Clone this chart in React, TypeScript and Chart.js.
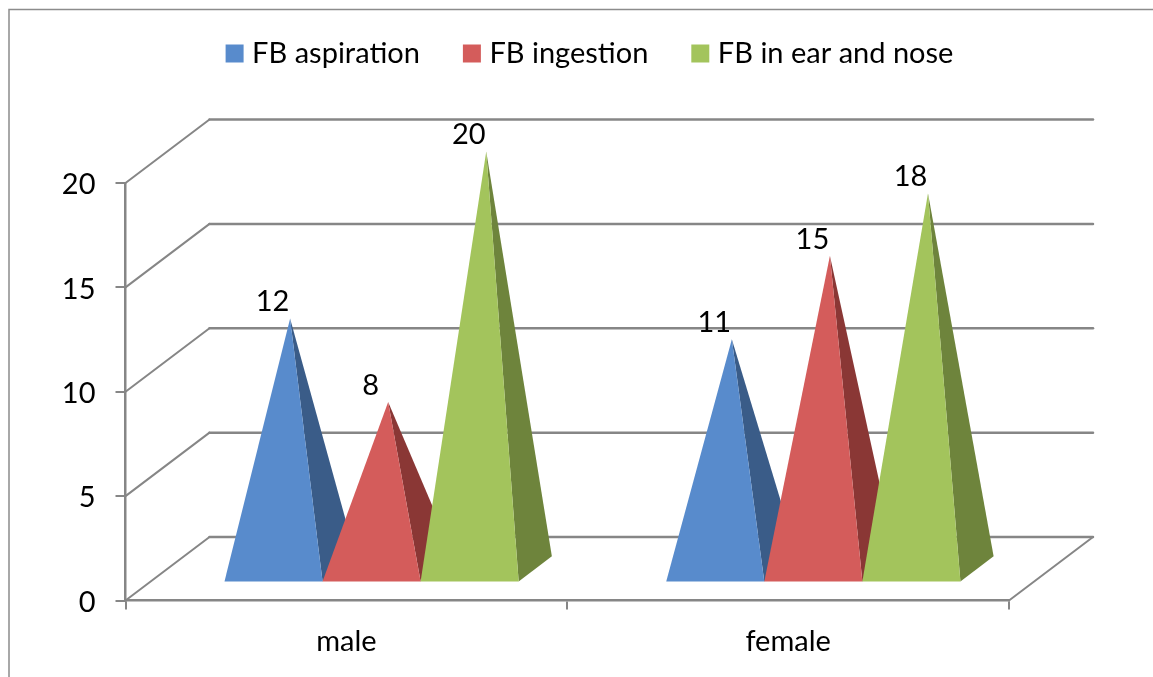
import React, { useEffect, useRef } from "react";
import { Chart, registerables } from "chart.js";

Chart.register(...registerables);

const categories = ["male", "female"];
const fbAspiration = [12, 11];
const fbIngestion = [8, 15];
const fbEarNose = [20, 18];
const seriesNames = ["FB aspiration", "FB ingestion", "FB in ear and nose"];

const FONT = "Lato, Carlito, sans-serif";
const GRID = "#868686";
const FRONT = ["#588bcc", "#d45c5b", "#a3c45c"];
const SIDE = ["#3a5c88", "#8a3735", "#6e843c"];

const DEPTH_X = 84;
const DEPTH_Y = 63.5;
const FLOOR = 0.3;
const PYRAMID = 0.395;
const LEGEND_SHIFT = 74;
const Y_LABEL_DROP = 2;

const scene = {
  id: "scene",
  beforeInit(chart: any) {
    const legend = chart.legend;
    const fit = legend.fit;
    legend.fit = function () {
      fit.call(this);
      this.height = 183 + 10;
    };
  },
  afterLayout(chart: any) {
    chart.legend.left += LEGEND_SHIFT;
    chart.legend.right += LEGEND_SHIFT;
  },
  beforeDraw(chart: any) {
    const { ctx } = chart;
    chart.scales.y.getLabelItems(chart.chartArea).forEach((item: any) => {
      if (!item.dropped) {
        item.dropped = true;
        item.textOffset += Y_LABEL_DROP;
      }
    });
    ctx.save();
    ctx.strokeStyle = "#8c8c8c";
    ctx.lineWidth = 1.5;
    ctx.beginPath();
    ctx.moveTo(9, 677);
    ctx.lineTo(9, 9.5);
    ctx.lineTo(1153, 9.5);
    ctx.stroke();
    ctx.restore();
  },
  beforeDatasetsDraw(chart: any) {
    const { ctx, scales } = chart;
    const y = scales.y;
    const x0 = scales.x.left;
    const x1 = scales.x.right;
    ctx.save();
    ctx.strokeStyle = GRID;
    ctx.lineCap = "round";
    y.ticks.forEach((t: any) => {
      const py = y.getPixelForValue(t.value);
      ctx.lineWidth = 2;
      ctx.beginPath();
      ctx.moveTo(x0, py);
      ctx.lineTo(x0 + DEPTH_X, py - DEPTH_Y);
      ctx.stroke();
      ctx.lineWidth = 2.5;
      ctx.beginPath();
      ctx.moveTo(x0 + DEPTH_X, py - DEPTH_Y);
      ctx.lineTo(x1 + DEPTH_X, py - DEPTH_Y);
      ctx.stroke();
    });
    const py0 = y.getPixelForValue(0);
    ctx.lineWidth = 2;
    ctx.beginPath();
    ctx.moveTo(x1, py0);
    ctx.lineTo(x1 + DEPTH_X, py0 - DEPTH_Y);
    ctx.stroke();
    ctx.restore();
  },
  afterDatasetsDraw(chart: any) {
    const { ctx, scales, data } = chart;
    const y = scales.y;
    const py0 = y.getPixelForValue(0);
    const baseY = py0 - FLOOR * DEPTH_Y;
    const dx = PYRAMID * DEPTH_X;
    const dy = PYRAMID * DEPTH_Y;
    ctx.save();
    data.datasets.forEach((ds: any, i: number) => {
      chart.getDatasetMeta(i).data.forEach((bar: any, j: number) => {
        const { x, width } = bar.getProps(["x", "width"], true);
        const left = x - width / 2 + FLOOR * DEPTH_X;
        const right = x + width / 2 + FLOOR * DEPTH_X;
        const ax = (left + right + dx) / 2;
        const ay = y.getPixelForValue(ds.data[j]) - FLOOR * DEPTH_Y - dy / 2;
        ctx.fillStyle = SIDE[i];
        ctx.beginPath();
        ctx.moveTo(right, baseY);
        ctx.lineTo(right + dx, baseY - dy);
        ctx.lineTo(ax, ay);
        ctx.closePath();
        ctx.fill();
        ctx.fillStyle = FRONT[i];
        ctx.beginPath();
        ctx.moveTo(left, baseY);
        ctx.lineTo(right, baseY);
        ctx.lineTo(ax, ay);
        ctx.closePath();
        ctx.fill();
      });
    });
    ctx.fillStyle = "#000";
    ctx.font = `29px ${FONT}`;
    ctx.textAlign = "center";
    ctx.textBaseline = "middle";
    data.datasets.forEach((ds: any, i: number) => {
      chart.getDatasetMeta(i).data.forEach((bar: any, j: number) => {
        const { x } = bar.getProps(["x"], true);
        const ax = x + FLOOR * DEPTH_X + dx / 2;
        const ay = y.getPixelForValue(ds.data[j]) - FLOOR * DEPTH_Y - dy / 2;
        ctx.fillText(String(ds.data[j]), ax - 17.5, ay - 16.5);
      });
    });
    ctx.restore();
  },
};

export default function App() {
  const ref = useRef<HTMLCanvasElement>(null);
  useEffect(() => {
    const chart = new Chart(ref.current as HTMLCanvasElement, {
      type: "bar",
      data: {
        labels: categories,
        datasets: [fbAspiration, fbIngestion, fbEarNose].map((values, i) => ({
          label: seriesNames[i],
          data: values,
          backgroundColor: "rgba(0,0,0,0)",
          categoryPercentage: 0.666,
          barPercentage: 1,
        })),
      },
      options: {
        responsive: false,
        animation: false,
        layout: { padding: { left: 28, right: 144, top: -10, bottom: 0 } },
        plugins: {
          tooltip: { enabled: false },
          legend: {
            position: "top",
            onClick: () => {},
            labels: {
              boxWidth: 6,
              boxHeight: 6,
              padding: 49,
              color: "#000",
              font: { family: FONT, size: 29 },
              generateLabels: () =>
                seriesNames.map((text, i) => ({
                  text,
                  fillStyle: FRONT[i],
                  strokeStyle: FRONT[i],
                  lineWidth: 12,
                  datasetIndex: i,
                })),
            },
          },
        },
        scales: {
          x: {
            afterFit: (s: any) => {
              s.height = 76.5;
            },
            grid: { drawOnChartArea: false, color: GRID, lineWidth: 2, tickLength: 9 },
            border: { color: GRID, width: 2.5 },
            ticks: { color: "#000", padding: 15, font: { family: FONT, size: 29 } },
          },
          y: {
            min: 0,
            max: 20,
            afterFit: (s: any) => {
              s.width = 97.5;
            },
            grid: { drawOnChartArea: false, color: GRID, lineWidth: 2, tickLength: 10 },
            border: { color: GRID, width: 2.5 },
            ticks: { stepSize: 5, color: "#000", padding: 20, font: { family: FONT, size: 29 } },
          },
        },
      },
      plugins: [scene],
    } as any);
    return () => chart.destroy();
  }, []);
  return (
    <div style={{ position: "absolute", left: 0, top: 0, width: 1153, height: 677, background: "#fff" }}>
      <canvas ref={ref} width={1153} height={677} style={{ display: "block" }} />
    </div>
  );
}
